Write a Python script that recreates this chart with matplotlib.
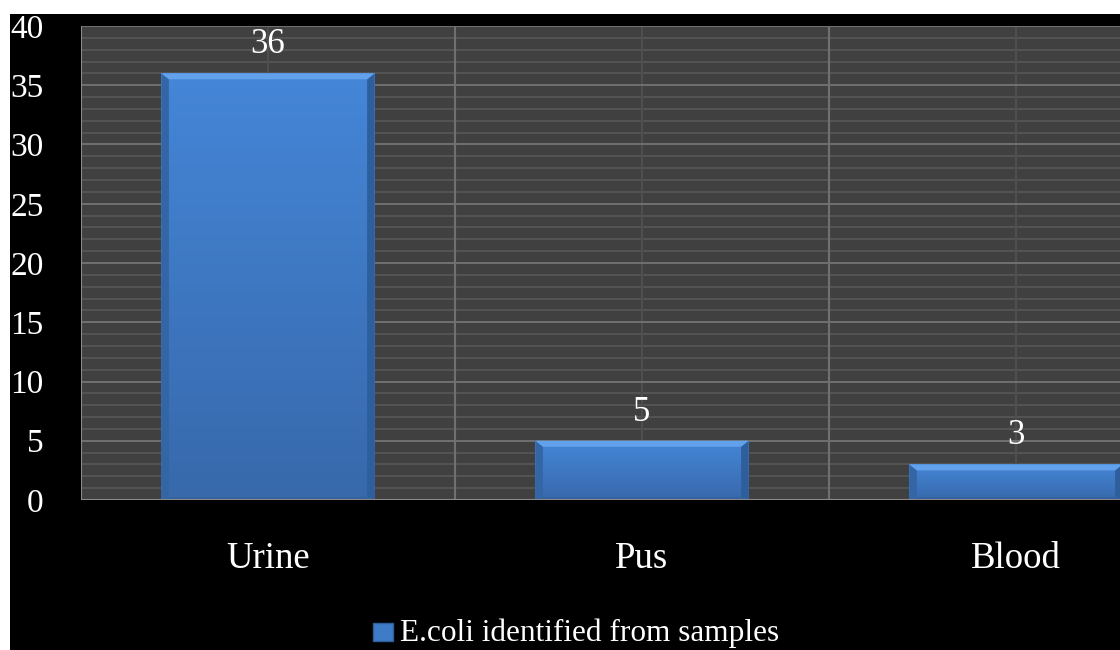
import matplotlib.pyplot as plt
import matplotlib.patches as mpatches
import numpy as np

# sample types and number of E.coli isolates
samples = ['Urine', 'Pus', 'Blood']
counts = [36, 5, 3]
legend_label = 'E.coli identified from samples'

plt.rcParams['font.family'] = ['Liberation Serif', 'DejaVu Serif']

W, H = 1120, 650
fig = plt.figure(figsize=(W / 100, H / 100), dpi=100, facecolor='white')
# black chart background with a thin white margin top and left
fig.patches.append(mpatches.Rectangle((10 / W, 0), 1, 1 - 14 / H,
                                      transform=fig.transFigure,
                                      facecolor='black', zorder=-10))

left, right, top, bottom = 81, 1120, 26, 500
ax = fig.add_axes([left / W, 1 - bottom / H, (right - left) / W, (bottom - top) / H])
ax.set_facecolor('#404040')

x = np.arange(len(samples))
bar_w = 0.57
ax.set_xlim(-0.5, -0.5 + (right - left) / 374)
ax.set_ylim(0, 40)

# grid: thin line every unit, brighter line every 5
for v in range(1, 40):
    if v % 5:
        ax.axhline(v, color='#575757', lw=1.2, zorder=1)
for v in range(5, 41, 5):
    ax.axhline(v, color='#707070', lw=1.4, zorder=1.2)
for i in range(len(samples)):
    ax.axvline(i, color='#4e4e4e', lw=1.5, zorder=1.1)
    ax.axvline(i + 0.5, color='#707070', lw=1.5, zorder=1.2)

# vertical gradient for the bar faces
grad = np.linspace(0, 1, 256).reshape(-1, 1)
top_c = np.array([0x45, 0x86, 0xd8]) / 255
bot_c = np.array([0x37, 0x69, 0xab]) / 255

bars = ax.bar(x, counts, width=bar_w, color='#3f78c4', edgecolor='none', zorder=3)
for b, c in zip(bars, counts):
    x0 = b.get_x()
    rgb = bot_c + (top_c - bot_c) * grad
    img = ax.imshow(rgb.reshape(256, 1, 3), extent=[x0, x0 + bar_w, 0, c],
                    origin='lower', aspect='auto', zorder=3.1)
    img.set_clip_path(b)
    # bevel: light strip on top, slightly darker strips at the sides
    bev = 0.5
    dx = 0.02
    ax.add_patch(mpatches.Polygon([[x0, c], [x0 + bar_w, c],
                                   [x0 + bar_w - dx, c - bev], [x0 + dx, c - bev]],
                                  closed=True, facecolor='#62a2ec', edgecolor='none', zorder=3.3))
    ax.add_patch(mpatches.Polygon([[x0, c], [x0 + dx, c - bev], [x0 + dx, bev * 0.5], [x0, 0]],
                                  closed=True, facecolor='#3466a6', edgecolor='none', zorder=3.2))
    ax.add_patch(mpatches.Polygon([[x0 + bar_w, c], [x0 + bar_w - dx, c - bev],
                                   [x0 + bar_w - dx, bev * 0.5], [x0 + bar_w, 0]],
                                  closed=True, facecolor='#2f5e9c', edgecolor='none', zorder=3.2))
    ax.add_patch(mpatches.Polygon([[x0, 0], [x0 + dx, bev * 0.5],
                                   [x0 + bar_w - dx, bev * 0.5], [x0 + bar_w, 0]],
                                  closed=True, facecolor='#33629f', edgecolor='none', zorder=3.2))
    ax.text(b.get_x() + bar_w / 2, c + 1.7, str(c), ha='center', va='baseline',
            color='white', fontsize=25)

for s in ax.spines.values():
    s.set_visible(False)
ax.axhline(0, color='#8a8a8a', lw=1.5, zorder=4)
ax.axvline(-0.5, color='#8a8a8a', lw=1.5, zorder=4)
ax.axhline(40, color='#707070', lw=1.5, zorder=1.2)

ax.set_yticks(range(0, 41, 5))
ax.set_xticks([])
ax.tick_params(axis='y', length=0, colors='white', labelsize=24, pad=27)

# category names under the axis
for i, name in enumerate(samples):
    ax.text(i, -5.75, name, ha='center', va='baseline', color='white',
            fontsize=26.5, clip_on=False)

# legend entry below the axis
key = mpatches.Rectangle((373 / W, 1 - 641 / H), 20 / W, 18 / H, transform=fig.transFigure,
                         facecolor='#3f7cc8', edgecolor='#2f5e9c', lw=1)
fig.patches.append(key)
fig.text(400 / W, 1 - 641 / H, legend_label, color='white', fontsize=22.5,
         ha='left', va='baseline')

fig.savefig('out.png', dpi=100, facecolor=fig.get_facecolor())
